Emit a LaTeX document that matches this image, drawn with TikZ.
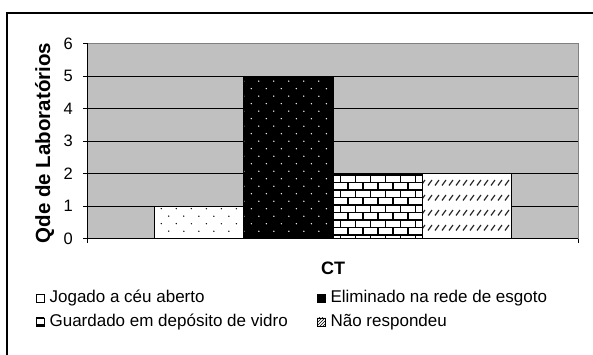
\documentclass[tikz,border=0pt]{standalone}
\usepackage{fontspec}
\setmainfont{Liberation Sans}
\usetikzlibrary{patterns,positioning}

\definecolor{plotgray}{RGB}{192,192,192}
\definecolor{framegray}{RGB}{128,128,128}

% staggered dots
\pgfdeclarepatternformonly{ptdots}{\pgfqpoint{-1pt}{-1pt}}{\pgfqpoint{16pt}{16pt}}{\pgfqpoint{15pt}{15pt}}{
  \pgfpathcircle{\pgfqpoint{3.75pt}{3.75pt}}{0.75pt}
  \pgfpathcircle{\pgfqpoint{11.25pt}{11.25pt}}{0.75pt}
  \pgfusepath{fill}}

% bricks
\pgfdeclarepatternformonly{ptbricks}{\pgfqpoint{-1pt}{-1pt}}{\pgfqpoint{16pt}{16pt}}{\pgfqpoint{15pt}{15pt}}{
  \pgfsetlinewidth{1.3pt}
  \pgfpathmoveto{\pgfqpoint{0pt}{0pt}}\pgfpathlineto{\pgfqpoint{15pt}{0pt}}
  \pgfpathmoveto{\pgfqpoint{0pt}{7.5pt}}\pgfpathlineto{\pgfqpoint{15pt}{7.5pt}}
  \pgfpathmoveto{\pgfqpoint{3pt}{0pt}}\pgfpathlineto{\pgfqpoint{3pt}{7.5pt}}
  \pgfpathmoveto{\pgfqpoint{10.5pt}{7.5pt}}\pgfpathlineto{\pgfqpoint{10.5pt}{15pt}}
  \pgfusepath{stroke}}

% short diagonal dashes
\pgfdeclarepatternformonly{ptslash}{\pgfqpoint{-1pt}{-1pt}}{\pgfqpoint{8.5pt}{16pt}}{\pgfqpoint{7pt}{15pt}}{
  \pgfsetlinewidth{1.2pt}
  \pgfpathmoveto{\pgfqpoint{1pt}{4.5pt}}\pgfpathlineto{\pgfqpoint{5pt}{10pt}}
  \pgfusepath{stroke}}

\begin{document}
\begin{tikzpicture}
[
  x=1pt, y=1pt,
  bar/.style={draw=black,line width=0.8pt},
  grid/.style={black,line width=0.6pt},
  tick/.style={font=\fontsize{16.5}{19}\selectfont,anchor=east,inner sep=0pt},
  leg/.style={font=\fontsize{17}{20}\selectfont,anchor=west,inner sep=0pt},
  key/.style={draw=black,line width=0.8pt,minimum size=8pt,inner sep=0pt}
]

\useasboundingbox (0,0) rectangle (593,355);
\draw[line width=1.2pt] (7,0) -- (7,342) -- (593,342);

% plot area
\fill[plotgray] (87,116.3) rectangle (578,311.6);
\draw[framegray,line width=1pt] (87,311.6) -- (578,311.6) -- (578,116.3);

\draw[grid] (87,148.85) -- (578,148.85);
\draw[grid] (87,181.4) -- (578,181.4);
\draw[grid] (87,213.95) -- (578,213.95);
\draw[grid] (87,246.5) -- (578,246.5);
\draw[grid] (87,279.05) -- (578,279.05);

% bars
\draw[bar,preaction={fill=white},pattern=ptdots] (154,116.3) rectangle (243.5,148.85);
\draw[bar,preaction={fill=black},pattern=ptdots,pattern color=white] (243.5,116.3) rectangle (333,279.05);
\draw[bar,preaction={fill=white},pattern=ptbricks] (333,116.3) rectangle (422,181.4);
\draw[bar,preaction={fill=white},pattern=ptslash,pattern color=black!85] (422,116.3) rectangle (511.5,181.4);

% axes
\draw[line width=0.8pt] (87,116.3) -- (87,311.6);
\draw[line width=0.8pt] (83,116.3) -- (578,116.3);
\draw[line width=0.8pt] (83,148.85) -- (87,148.85);
\draw[line width=0.8pt] (83,181.4) -- (87,181.4);
\draw[line width=0.8pt] (83,213.95) -- (87,213.95);
\draw[line width=0.8pt] (83,246.5) -- (87,246.5);
\draw[line width=0.8pt] (83,279.05) -- (87,279.05);
\draw[line width=0.8pt] (83,311.6) -- (87,311.6);
\draw[line width=0.8pt] (87,116.3) -- (87,112);
\draw[line width=0.8pt] (578,116.3) -- (578,112);

\node[tick] (y0) at (73,116.3) {0};
\node[tick] (y1) at (73,148.85) {1};
\node[tick] (y2) at (73,181.4) {2};
\node[tick] (y3) at (73,213.95) {3};
\node[tick] (y4) at (73,246.5) {4};
\node[tick] (y5) at (73,279.05) {5};
\node[tick] (y6) at (73,311.6) {6};

\node[rotate=90,font=\bfseries\fontsize{20.5}{24}\selectfont] (ytitle) at (44.5,212) {Qde de Laborat\'orios};
\node[font=\bfseries\fontsize{18}{21}\selectfont] (xtitle) at (333,87) {CT};

% legend
\node[key,fill=white] (k1) at (40,57) {};
\node[leg,right=5pt of k1] (l1) {Jogado a c\'eu aberto};
\node[key,fill=black] (k2) at (321,57) {};
\node[leg,right=5pt of k2] (l2) {Eliminado na rede de esgoto};
\node[key,preaction={fill=white},pattern=ptbricks] (k3) at (40,33) {};
\node[leg,right=5pt of k3] (l3) {Guardado em dep\'osito de vidro};
\node[key,preaction={fill=white},pattern=north east lines] (k4) at (321,33) {};
\node[leg,right=5pt of k4] (l4) {N\~ao respondeu};

\end{tikzpicture}
\end{document}
